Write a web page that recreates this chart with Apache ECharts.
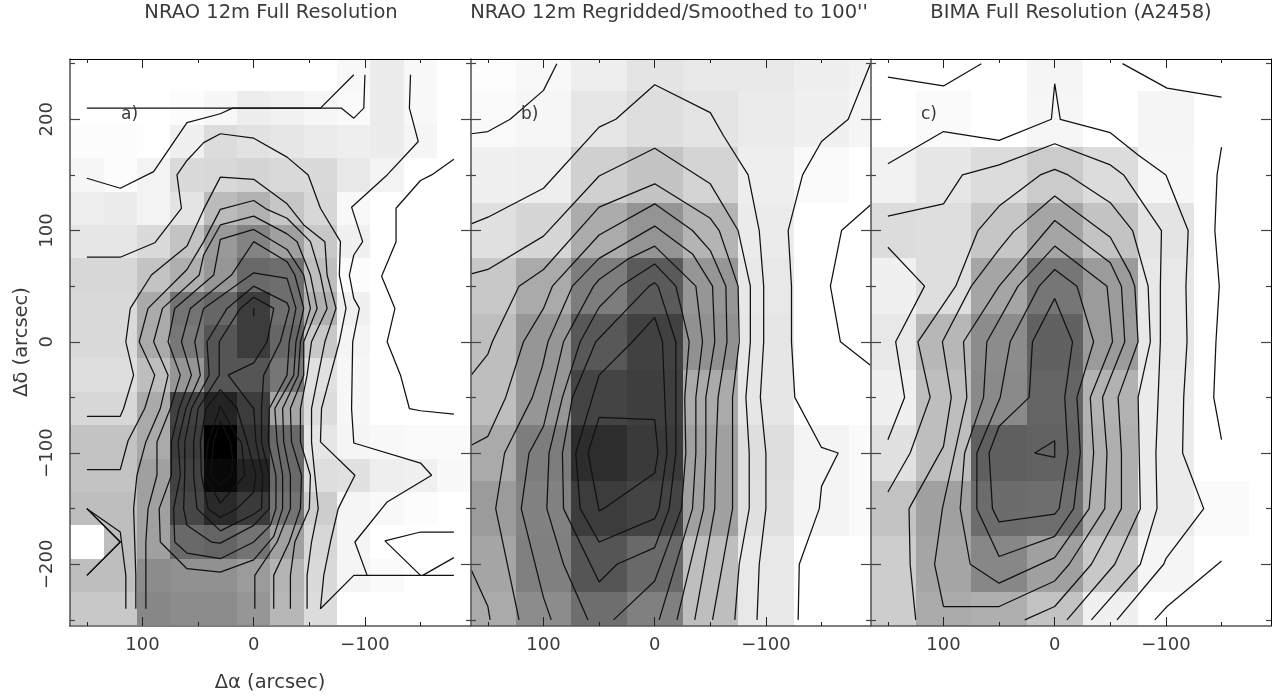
<!DOCTYPE html>
<html><head><meta charset="utf-8">
<style>html,body{margin:0;padding:0;background:#fff}#c{width:1278px;height:700px}</style>
<script src="https://cdn.jsdelivr.net/npm/echarts@6/dist/echarts.min.js"></script>
</head><body><div id="c"></div>
<script>
// ---------- tick values ----------
const xMajorTicks = [100, 0, -100];
const xMinorTicks = [150, 50, -50, -150];
const yMajorTicks = [200, 100, 0, -100, -200];
const yMinorTicks = [250, 150, 50, -50, -150, -250];

// ---------- panel a: grey levels (255 = white) ----------
const aColumns = [150, 120, 90, 60, 30, 0, -30, -60, -90, -120, -150, -180];
const aRows = [240, 210, 180, 150, 120, 90, 60, 30, 0, -30, -60, -90, -120, -150, -180, -210, -240];
const aGrey = [
 [255,255,255,255,255,255,255,255,248,236,248,255],
 [255,255,255,252,247,237,241,246,250,236,248,255],
 [252,252,254,240,220,226,230,235,238,236,245,255],
 [246,252,243,218,216,212,217,218,232,243,255,255],
 [238,236,243,228,187,177,198,215,248,255,255,255],
 [230,230,218,195,153,131,160,200,240,255,255,255],
 [215,215,195,175,150,105,110,190,252,255,255,255],
 [218,218,170,115,102,60,110,176,240,255,255,255],
 [218,218,170,120,85,60,102,200,245,255,255,255],
 [222,222,190,150,85,85,118,225,247,255,255,255],
 [215,215,170,65,35,60,165,220,247,255,255,255],
 [195,195,170,60,0,50,105,230,245,248,250,250],
 [195,195,160,65,8,35,105,222,225,238,240,248],
 [190,190,160,70,42,58,115,205,245,248,252,255],
 [255,190,160,105,100,115,160,215,245,255,255,255],
 [190,190,140,145,145,155,180,218,245,250,255,255],
 [200,200,135,140,140,150,183,220,255,255,255,255]
];

// ---------- panels b and c share a 50 arcsec grid ----------
const bcColumns = [150, 100, 50, 0, -50, -100, -150, -200];
const bcRows = [250, 200, 150, 100, 50, 0, -50, -100, -150, -200, -250];
const bGrey = [
 [253,248,238,228,232,232,238,242],
 [250,246,230,222,228,235,240,245],
 [240,238,208,196,212,238,250,255],
 [224,214,172,148,180,235,255,255],
 [200,170,125,90,150,232,255,255],
 [190,150,88,65,145,230,255,255],
 [190,150,68,62,170,230,255,255],
 [170,125,45,58,160,222,244,250],
 [155,130,60,68,160,224,244,250],
 [165,128,85,105,190,232,255,255],
 [170,140,110,128,190,232,255,255]
];
const cGrey = [
 [255,255,255,245,255,255,255,255],
 [255,250,255,246,255,245,255,255],
 [242,230,220,203,220,246,255,255],
 [220,222,198,165,195,228,255,255],
 [240,222,165,118,155,232,255,255],
 [232,183,140,97,155,232,255,255],
 [240,190,138,100,178,235,255,255],
 [225,190,95,98,175,235,255,255],
 [195,160,108,110,175,235,250,255],
 [205,165,135,160,200,245,255,255],
 [205,170,175,195,240,255,255,255]
];

// ---------- panel a contours [dRA, dDec] ----------
const aContourTop = [[150,210],[-79,210],[-90,201],[-99,210],[-100,240]];
const aContourUpper = [[150,147],[120,138],[90,153],[60,197],[30,205],[19,210],[-60,210],[-90,240]];
const aStubUpper = [[150,-150],[120,-180],[150,-210]];
const aStubLower = [[150,-150],[120,-171],[115,-210],[115,-240]];
const aRightOuter = [[-141,240],[-140,210],[-148,180],[-120,150],[-88,121],[-98,90],[-90,78],[-86,60],[-90,39],[-95,30],[-89,0],[-88,-60],[-90,-91],[-150,-109],[-160,-120],[-120,-144],[-91,-180],[-102,-210]];
const aRightFar = [[-180,164],[-160,150],[-150,145],[-128,120],[-128,90],[-115,59],[-127,30],[-120,0],[-132,-30],[-140,-60],[-150,-62],[-180,-65]];
const aRightLoop = [[-180,-171],[-150,-171],[-118,-179],[-150,-210]];
const aRightTail = [[-152,-210],[-180,-194]];
const aLevel1 = [[150,76],[120,76],[89,89],[65,120],[69,150],[60,163],[45,179],[30,187],[0,183],[-30,166],[-49,150],[-60,120],[-78,90],[-77,60],[-83,30],[-77,0],[-69,-30],[-61,-60],[-60,-90],[-91,-120],[-76,-150],[-69,-180],[-63,-210],[-60,-240],[-90,-210],[-180,-210]];
const aLevel2 = [[150,-67],[120,-67],[117,-60],[108,-30],[115,0],[111,30],[92,60],[60,86],[45,119],[30,148],[0,146],[-30,124],[-45,105],[-64,90],[-66,60],[-74,30],[-64,0],[-58,-30],[-52,-60],[-52,-90],[-55,-120],[-58,-150],[-52,-180],[-48,-210],[-48,-240]];
const aLevel3 = [[150,-115],[120,-115],[113,-89],[98,-60],[89,-30],[103,0],[95,30],[60,65],[45,90],[30,119],[0,127],[-12,119],[-30,111],[-51,90],[-60,60],[-66,30],[-52,0],[-48,-30],[-42,-60],[-42,-90],[-51,-120],[-50,-150],[-37,-180],[-33,-210],[-33,-240]];
const aLevel4 = [[106,-240],[106,-210],[108,-150],[105,-120],[97,-90],[84,-60],[77,-30],[90,0],[82,30],[49,60],[45,78],[30,105],[0,113],[-30,97],[-39,90],[-51,60],[-57,30],[-45,0],[-45,-30],[-33,-60],[-34,-90],[-43,-120],[-42,-150],[-32,-180],[-18,-210],[-18,-240]];
const aLevel5 = [[97,-240],[97,-180],[95,-150],[87,-120],[87,-90],[75,-60],[66,-30],[77,0],[71,30],[36,60],[30,92],[0,101],[-30,83],[-45,60],[-51,30],[-42,0],[-40,-30],[-26,-60],[-27,-90],[-33,-120],[-33,-150],[-21,-180],[-1,-210],[-1,-240]];
const aLevel6 = [[84,-180],[85,-150],[74,-120],[74,-90],[67,-60],[56,-30],[65,0],[57,30],[20,60],[0,90],[-30,72],[-37,60],[-45,30],[-38,0],[-36,-30],[-19,-60],[-21,-90],[-26,-120],[-26,-150],[-18,-175],[0,-196],[30,-207],[60,-204],[84,-180]];
const aLevel7 = [[71,-180],[72,-150],[66,-120],[68,-90],[61,-60],[48,-30],[53,0],[45,30],[0,62],[-30,57],[-38,30],[-32,0],[-30,-30],[-14,-60],[-13,-90],[-20,-120],[-20,-150],[-15,-165],[0,-180],[30,-195],[60,-190],[71,-180]];
const aLevel8 = [[60,-165],[63,-150],[62,-120],[62,-90],[56,-60],[40,-30],[42,0],[24,30],[0,50],[-30,35],[-32,30],[-24,0],[-9,-30],[-7,-60],[-7,-90],[-14,-120],[-14,-150],[0,-165],[30,-181],[38,-180],[60,-165]];
const aLevel9 = [[31,-30],[31,0],[12,30],[0,40],[-18,30],[-12,0],[0,-19],[23,-30],[0,-60],[-2,-90],[-8,-120],[-7,-150],[0,-155],[30,-170],[51,-150],[54,-120],[54,-90],[50,-60],[31,-30]];
const aLevel10 = [[30,-43],[15,-60],[6,-90],[-2,-120],[0,-135],[15,-150],[30,-158],[41,-150],[47,-120],[48,-90],[43,-60],[30,-43]];
const aLevel11 = [[30,-58],[15,-86],[11,-90],[8,-120],[30,-145],[44,-120],[41,-90],[30,-58]];
const aLevel12 = [[30,-71],[36,-90],[39,-120],[30,-129],[20,-120],[19,-105],[21,-90],[30,-71]];
const aPeakNorth = [[0,30],[0,23]];
const aPeakSouth = [[30,-105],[30,-107]];

// ---------- panel b contours ----------
const bLevel1 = [[165,187],[150,189],[130,200],[100,226],[88,250]];
const bLevel2 = [[165,106],[150,112],[100,138],[50,193],[35,200],[0,231],[-50,206],[-62,185],[-84,150],[-94,100],[-98,50],[-98,0],[-95,-50],[-100,-100],[-100,-150],[-94,-200],[-92,-250]];
const bLevel3 = [[165,61],[150,65],[100,95],[50,149],[0,174],[-50,142],[-75,100],[-86,50],[-86,0],[-82,-50],[-85,-100],[-85,-150],[-76,-200],[-72,-250]];
const bLevel4 = [[165,-30],[150,-11],[146,0],[122,50],[100,65],[50,121],[0,142],[-50,111],[-58,100],[-75,50],[-76,0],[-70,-50],[-70,-100],[-70,-150],[-52,-250]];
const bLevel5 = [[165,-93],[150,-85],[134,-50],[118,0],[100,30],[92,50],[50,96],[0,124],[-34,100],[-50,82],[-64,50],[-65,0],[-57,-50],[-55,-100],[-54,-150],[-36,-250]];
const bLevel6 = [[122,-250],[143,-150],[135,-100],[110,-50],[101,-22],[96,0],[74,50],[50,75],[0,104],[-34,79],[-52,50],[-54,0],[-46,-50],[-46,-100],[-44,-150],[-20,-250]];
const bLevel7 = [[93,-250],[100,-230],[120,-150],[113,-100],[100,-76],[82,0],[55,50],[50,56],[23,75],[0,86],[-37,50],[-43,0],[-37,-50],[-37,-100],[-34,-150],[-4,-250]];
const bLevel8 = [[60,-250],[82,-200],[97,-150],[95,-100],[83,-50],[67,0],[50,31],[31,50],[0,70],[-19,50],[-31,0],[-27,-50],[-28,-100],[-24,-150],[0,-215],[37,-250]];
const bLevel9 = [[50,-216],[82,-150],[83,-100],[74,-50],[53,0],[5,50],[0,53],[-3,50],[-19,0],[-19,-100],[-13,-150],[0,-185],[34,-200],[50,-216]];
const bLevel10 = [[0,22],[20,0],[50,-30],[71,-100],[67,-150],[50,-180],[0,-159],[-4,-150],[-11,-100],[-7,0],[0,22]];
const bLevel11 = [[50,-68],[0,-70],[-3,-100],[0,-118],[46,-150],[50,-152],[60,-100],[50,-68]];
const bRight1 = [[-194,250],[-174,200],[-150,180],[-133,150],[-120,100],[-123,50],[-123,0],[-126,-50],[-150,-95],[-165,-100],[-150,-130],[-148,-150],[-130,-200],[-129,-250]];
const bRight2 = [[-194,123],[-168,100],[-158,50],[-167,0],[-194,-21]];
const bCorner = [[165,-205],[150,-238],[148,-250]];

// ---------- panel c contours ----------
const cTopLeft = [[150,238],[100,230],[66,250]];
const cTopRight = [[-61,250],[-101,228],[-150,220]];
const cLevel1 = [[150,160],[100,189],[50,181],[3,200],[0,232],[-5,200],[-50,188],[-75,168],[-100,150],[-120,100],[-118,50],[-119,0],[-116,-50],[-115,-100],[-134,-150],[-100,-195],[-98,-200],[-56,-250]];
const cLevel2 = [[150,113],[100,124],[83,150],[50,159],[0,178],[-50,159],[-62,150],[-96,100],[-95,50],[-95,0],[-93,-50],[-91,-100],[-92,-150],[-77,-200],[-33,-250]];
const cLeftLoop = [[150,85],[117,50],[143,0],[135,-50],[150,-88]];
const cLevel3 = [[150,-135],[130,-100],[112,-50],[123,0],[89,50],[69,100],[50,122],[13,150],[0,155],[-12,150],[-50,125],[-70,100],[-84,50],[-86,0],[-75,-50],[-76,-100],[-77,-150],[-54,-200],[-11,-250]];
const cLevel4 = [[125,-250],[130,-200],[131,-150],[100,-94],[93,-50],[101,0],[75,50],[50,83],[37,99],[0,131],[-50,94],[-68,61],[-72,50],[-75,0],[-57,-50],[-60,-100],[-60,-150],[-33,-200],[0,-238],[27,-250]];
const cLevel5 = [[100,-238],[108,-200],[101,-150],[79,-50],[82,0],[50,50],[0,109],[-50,71],[-60,50],[-63,0],[-43,-50],[-47,-100],[-45,-150],[-13,-200],[0,-215],[50,-238],[100,-238]];
const cLevel6 = [[76,-200],[85,-150],[81,-100],[64,-50],[61,0],[33,50],[0,86],[-47,50],[-52,0],[-32,-50],[-35,-100],[-31,-150],[0,-194],[50,-217],[76,-200]];
const cLevel7 = [[70,-150],[70,-100],[49,-50],[40,0],[14,50],[0,65],[-20,50],[-35,0],[-20,-50],[-23,-100],[-17,-150],[0,-175],[50,-193],[70,-150]];
const cLevel8 = [[0,39],[20,0],[23,-50],[50,-76],[59,-100],[56,-150],[50,-162],[0,-155],[-4,-150],[-12,-100],[-9,-50],[-16,0],[0,39]];
const cPeak = [[18,-100],[0,-89],[0,-104],[18,-100]];
const cFarRight = [[-150,175],[-146,150],[-144,100],[-148,50],[-145,0],[-143,-50],[-150,-88]];
const cLowerRight = [[-150,-197],[-101,-238],[-90,-250]];

// ---------- text ----------
const panelTitles = ["NRAO 12m Full Resolution", "NRAO 12m Regridded/Smoothed to 100''", "BIMA Full Resolution (A2458)"];
const panelTags = ["a)", "b)", "c)"];
const xAxisTitle = "\u0394\u03b1 (arcsec)";
const yAxisTitle = "\u0394\u03b4 (arcsec)";

// ---------- layout ----------
const yRange = [-255.5, 254.2];
const FONT = '"DejaVu Sans"';
const TEXT = '#3a3a3a';
const panels = [
 {left: 70,  width: 401, xMin: -195.4, rightEdge: false, columns: aColumns, rows: aRows, grey: aGrey, step: 30, tagX: 121, titleX: 271,
  contours: [aContourTop,aContourUpper,aStubUpper,aStubUpper,aStubLower,aRightOuter,aRightFar,aRightLoop,aRightTail,aLevel1,aLevel2,aLevel3,aLevel4,aLevel5,aLevel6,aLevel7,aLevel8,aLevel9,aLevel10,aLevel11,aLevel12,aPeakNorth,aPeakSouth]},
 {left: 471, width: 400, xMin: -194.5, rightEdge: false, columns: bcColumns, rows: bcRows, grey: bGrey, step: 50, tagX: 521, titleX: 669,
  contours: [bLevel1,bLevel2,bLevel3,bLevel4,bLevel5,bLevel6,bLevel7,bLevel8,bLevel9,bLevel10,bLevel11,bRight1,bRight2,bCorner]},
 {left: 871, width: 400, xMin: -194.5, rightEdge: true, columns: bcColumns, rows: bcRows, grey: cGrey, step: 50, tagX: 921, titleX: 1071,
  contours: [cTopLeft,cTopRight,cLevel1,cLevel2,cLeftLoop,cLevel3,cLevel4,cLevel5,cLevel6,cLevel7,cLevel8,cPeak,cFarRight,cLowerRight]}
];

const signed = v => v < 0 ? '\u2212' + Math.abs(v) : String(v);

function hAxis(gridIndex, position, xMin, ticks, length, labels) {
  return {
    type: 'value', gridIndex, position, inverse: true, min: xMin, max: 165.2, z: 10,
    splitLine: {show: false},
    axisLine: {show: length > 5, onZero: false, lineStyle: position === 'top' ? {color: '#000', width: 1} : {color: '#555', width: 1.6}},
    axisTick: {show: true, inside: true, length, customValues: ticks, lineStyle: {color: '#222', width: 1}},
    axisLabel: labels ? {show: true, customValues: ticks, formatter: signed, margin: 10, fontFamily: FONT, fontSize: 18, color: TEXT} : {show: false}
  };
}
function vAxis(gridIndex, position, ticks, length, labels, edge) {
  return {
    type: 'value', gridIndex, position, min: yRange[0], max: yRange[1], z: 10,
    splitLine: {show: false},
    axisLine: {show: edge !== 'none', onZero: false, lineStyle: edge === 'dark' ? {color: '#000', width: 1} : {color: '#5a5a5a', width: 1.6}},
    axisTick: {show: true, inside: true, length, customValues: ticks, lineStyle: {color: '#444', width: 1.2}},
    axisLabel: labels ? {show: true, rotate: 90, customValues: ticks, formatter: signed, margin: 14, fontFamily: FONT, fontSize: 18, color: TEXT} : {show: false}
  };
}

const grid = [], xAxis = [], yAxis = [], series = [], graphic = [];
panels.forEach((p, i) => {
  const major = grid.length;
  grid.push({left: p.left, top: 59, width: p.width, height: 567});
  const minor = grid.length;
  grid.push({left: p.left, top: 59, width: p.width, height: 567});
  const xBottom = xAxis.length;
  xAxis.push(hAxis(major, 'bottom', p.xMin, xMajorTicks, 9, true), hAxis(major, 'top', p.xMin, xMajorTicks, 9, false),
             hAxis(minor, 'bottom', p.xMin, xMinorTicks, 4, false), hAxis(minor, 'top', p.xMin, xMinorTicks, 4, false));
  const yLeft = yAxis.length;
  yAxis.push(vAxis(major, 'left', yMajorTicks, 10, i === 0, 'grey'), vAxis(major, 'right', yMajorTicks, 10, false, p.rightEdge ? 'dark' : 'none'),
             vAxis(minor, 'left', yMinorTicks, 5, false, 'none'), vAxis(minor, 'right', yMinorTicks, 5, false, 'none'));
  const cells = [];
  p.rows.forEach((ry, r) => p.columns.forEach((cx, c) => cells.push([cx, ry, p.grey[r][c]])));
  const half = p.step / 2;
  series.push({
    type: 'custom', xAxisIndex: xBottom, yAxisIndex: yLeft, z: 1, silent: true, animation: false,
    encode: {x: 0, y: 1},
    data: cells,
    renderItem(params, api) {
      const a = api.coord([api.value(0) + half, api.value(1) + half]);
      const b = api.coord([api.value(0) - half, api.value(1) - half]);
      const g = api.value(2);
      const cs = params.coordSys;
      const x0 = Math.max(Math.round(a[0]), cs.x), x1 = Math.min(Math.round(b[0]), cs.x + cs.width);
      const y0 = Math.max(Math.round(a[1]), cs.y), y1 = Math.min(Math.round(b[1]), cs.y + cs.height);
      if (x1 <= x0 || y1 <= y0) return null;
      return {type: 'rect', shape: {x: x0, y: y0, width: x1 - x0, height: y1 - y0},
              style: {fill: 'rgb(' + g + ',' + g + ',' + g + ')'}};
    }
  });
  p.contours.forEach(line => series.push({
    type: 'line', xAxisIndex: xBottom, yAxisIndex: yLeft, z: 5, silent: true, animation: false,
    showSymbol: false, symbol: 'none', clip: false, smooth: false,
    lineStyle: {color: '#111', width: 1.25}, data: line
  }));
  graphic.push({type: 'text', x: p.titleX, y: 13, z: 20, style: {text: panelTitles[i], fontFamily: FONT, fontSize: 19.5, fill: TEXT, textAlign: 'center', textVerticalAlign: 'middle'}});
  graphic.push({type: 'text', x: p.tagX, y: 115, z: 20, style: {text: panelTags[i], fontFamily: FONT, fontSize: 17, fill: TEXT, textAlign: 'left', textVerticalAlign: 'middle'}});
});
graphic.push({type: 'text', x: 270, y: 683, z: 20, style: {text: xAxisTitle, fontFamily: FONT, fontSize: 19.5, fill: TEXT, textAlign: 'center', textVerticalAlign: 'middle'}});
graphic.push({type: 'text', x: 22, y: 342, rotation: Math.PI / 2, z: 20, style: {text: yAxisTitle, fontFamily: FONT, fontSize: 19.5, fill: TEXT, textAlign: 'center', textVerticalAlign: 'middle'}});

const chart = echarts.init(document.getElementById('c'), null, {renderer: 'canvas'});
chart.setOption({animation: false, backgroundColor: '#fff', grid, xAxis, yAxis, series, graphic});
</script></body></html>
